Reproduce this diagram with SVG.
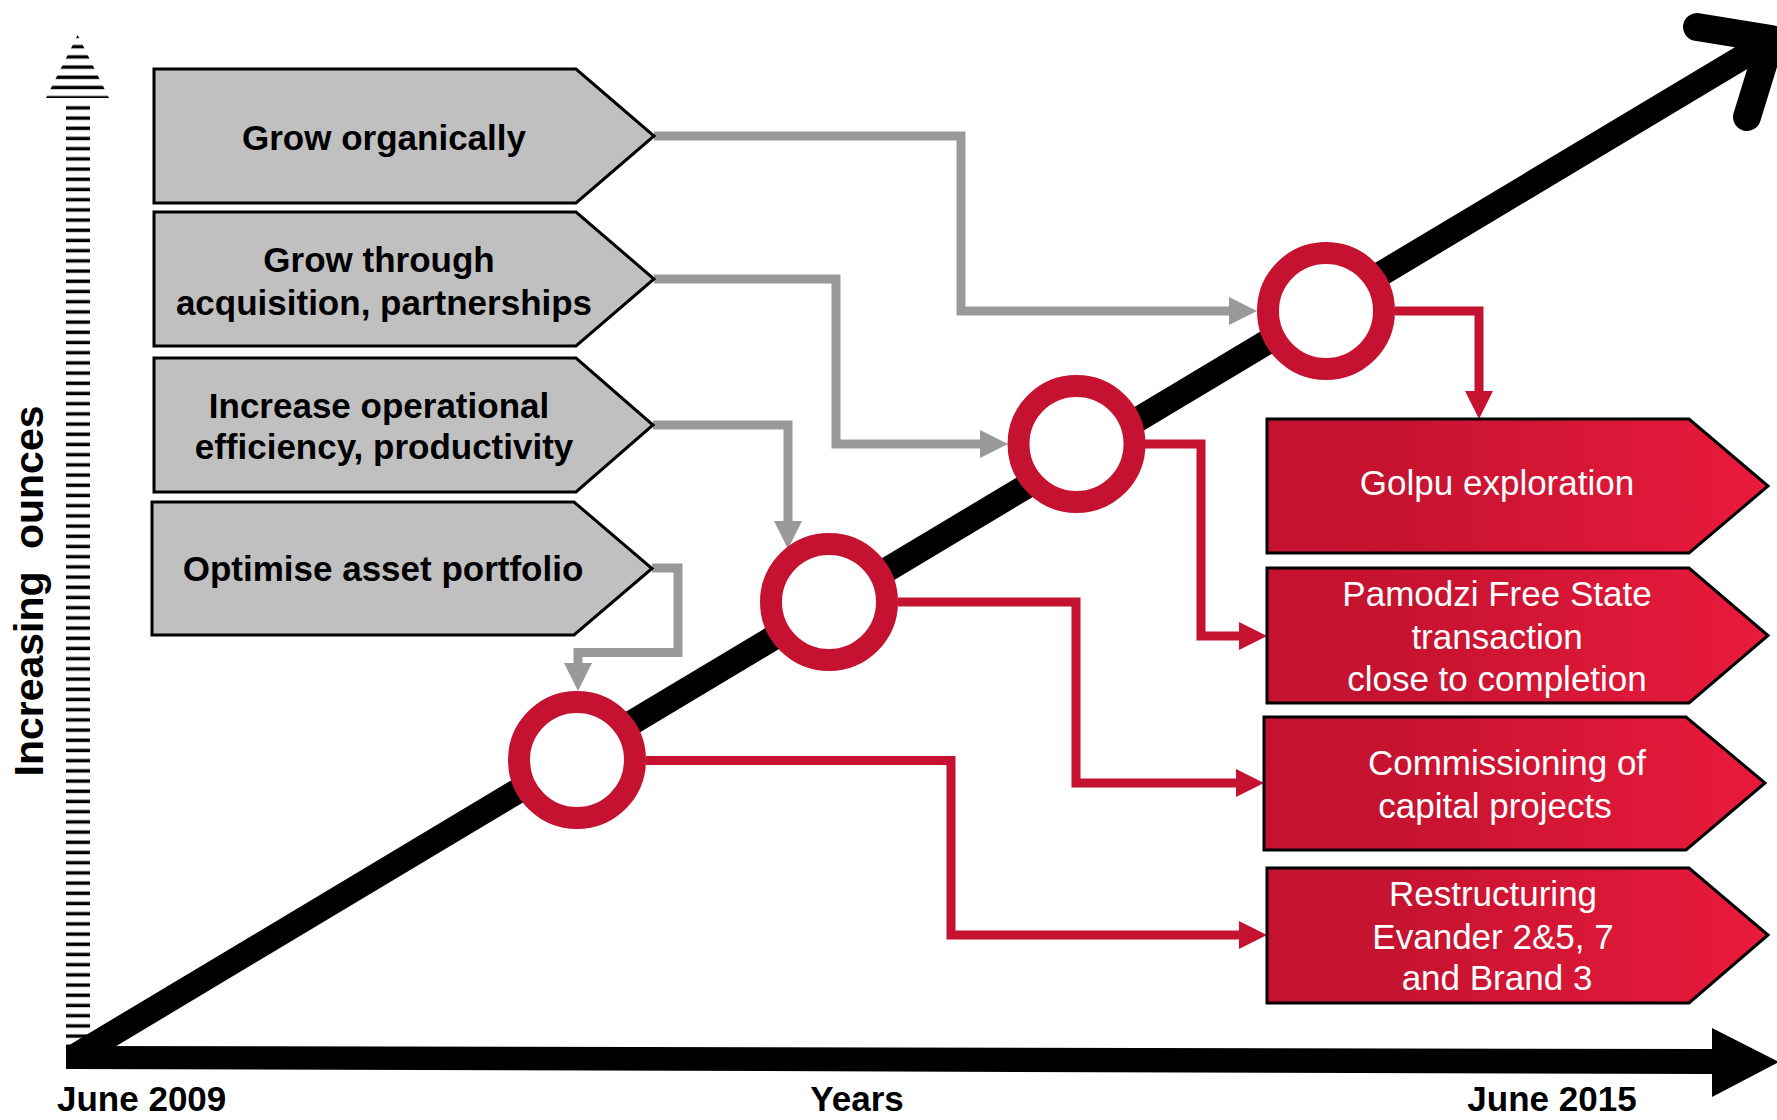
<svg xmlns="http://www.w3.org/2000/svg" width="1777" height="1120" viewBox="0 0 1777 1120">
<style>
text{font-family:"Liberation Sans",Arial,sans-serif;font-size:35px;text-anchor:middle}
.gb{fill:#C0C0C0;stroke:#000;stroke-width:3}
.rb{fill:url(#redgrad);stroke:#000;stroke-width:3}
.gt{font-weight:bold;fill:#000}
.rt{fill:#fff}
.ax{font-weight:bold;fill:#000}
.gc{fill:none;stroke:#999999;stroke-width:9;marker-end:url(#ga)}
.rc{fill:none;stroke:#C41230;stroke-width:9;marker-end:url(#ra)}
.ring{fill:#fff;stroke:#C41230;stroke-width:22}
</style>
<defs>
<linearGradient id="redgrad" x1="0" y1="0" x2="1" y2="0">
<stop offset="0" stop-color="#C41230"/>
<stop offset="0.25" stop-color="#C51330"/>
<stop offset="1" stop-color="#EA1A3C"/>
</linearGradient>
<pattern id="hatch" patternUnits="userSpaceOnUse" x="0" y="0" width="20" height="10.2">
<rect x="0" y="4.2" width="20" height="3.4" fill="#000"/>
</pattern>
<marker id="ga" markerUnits="userSpaceOnUse" viewBox="0 0 28 28" markerWidth="28" markerHeight="28" refX="0" refY="14" orient="auto">
<path d="M0,0 L28,14 L0,28 Z" fill="#999999"/>
</marker>
<marker id="ra" markerUnits="userSpaceOnUse" viewBox="0 0 28 28" markerWidth="28" markerHeight="28" refX="0" refY="14" orient="auto">
<path d="M0,0 L28,14 L0,28 Z" fill="#C41230"/>
</marker>
</defs>

<g id="y-axis">
<polygon points="46,98 109,98 77.7,35" fill="url(#hatch)"/>
<rect x="66" y="103" width="24" height="943" fill="url(#hatch)"/>
<text class="ax" transform="translate(43,591) rotate(-90)" style="font-size:41px">Increasing<tspan dx="11"> ounces</tspan></text>
</g>

<g id="x-axis">
<polygon points="66,1046 1712,1049 1712,1028 1779,1062 1712,1097 1712,1074 66,1069" fill="#000"/>
<text class="ax" x="57" y="1111" style="text-anchor:start">June 2009</text>
<text class="ax" x="857" y="1111">Years</text>
<text class="ax" x="1552" y="1111">June 2015</text>
</g>

<g id="growth-arrow">
<line x1="72" y1="1058" x2="1768" y2="42" stroke="#000" stroke-width="25"/>
<polyline points="1697,27 1771,39 1747,117" fill="none" stroke="#000" stroke-width="28" stroke-linecap="round" stroke-linejoin="round"/>
</g>

<g id="connectors">
<path class="gc" d="M654,136 H961 V311 H1229"/>
<path class="gc" d="M654,279 H836 V444 H980"/>
<path class="gc" d="M653,425 H788 V521"/>
<path class="gc" d="M652,568 H678 V652.5 H578 V663"/>
<path class="rc" d="M1395,311 H1479 V391"/>
<path class="rc" d="M1145,444 H1201 V636 H1239"/>
<path class="rc" d="M898,602 H1076 V783 H1236"/>
<path class="rc" d="M646,760.5 H951 V935 H1239"/>
</g>

<g id="milestone-1"><circle class="ring" cx="577" cy="760" r="58"/></g>
<g id="milestone-2"><circle class="ring" cx="829" cy="602" r="58"/></g>
<g id="milestone-3"><circle class="ring" cx="1076.5" cy="444" r="58"/></g>
<g id="milestone-4"><circle class="ring" cx="1326" cy="311" r="58"/></g>

<g id="grow-organically">
<polygon class="gb" points="154,69 576,69 654,136 576,203 154,203"/>
<text class="gt" x="384" y="150">Grow organically</text>
</g>
<g id="grow-acquisition">
<polygon class="gb" points="154,212 576,212 654,279 576,346 154,346"/>
<text class="gt" x="379" y="272">Grow through</text>
<text class="gt" x="384" y="315">acquisition, partnerships</text>
</g>
<g id="increase-efficiency">
<polygon class="gb" points="154,358 576,358 653,425 576,492 154,492"/>
<text class="gt" x="379" y="418">Increase operational</text>
<text class="gt" x="384" y="459">efficiency, productivity</text>
</g>
<g id="optimise-portfolio">
<polygon class="gb" points="152,502 574,502 652,568.5 574,635 152,635"/>
<text class="gt" x="383" y="581">Optimise asset portfolio</text>
</g>

<g id="golpu">
<polygon class="rb" points="1267,419 1689,419 1768,486 1689,553 1267,553"/>
<text class="rt" x="1497" y="495">Golpu exploration</text>
</g>
<g id="pamodzi">
<polygon class="rb" points="1267,568 1689,568 1768,635.5 1689,703 1267,703"/>
<text class="rt" x="1497" y="606">Pamodzi Free State</text>
<text class="rt" x="1497" y="649">transaction</text>
<text class="rt" x="1497" y="691">close to completion</text>
</g>
<g id="commissioning">
<polygon class="rb" points="1264,717 1686,717 1765,783 1686,850 1264,850"/>
<text class="rt" x="1507" y="775">Commissioning of</text>
<text class="rt" x="1495" y="818">capital projects</text>
</g>
<g id="restructuring">
<polygon class="rb" points="1267,868 1689,868 1768,935 1689,1003 1267,1003"/>
<text class="rt" x="1493" y="906">Restructuring</text>
<text class="rt" x="1493" y="949">Evander 2&amp;5, 7</text>
<text class="rt" x="1497" y="990">and Brand 3</text>
</g>
</svg>
